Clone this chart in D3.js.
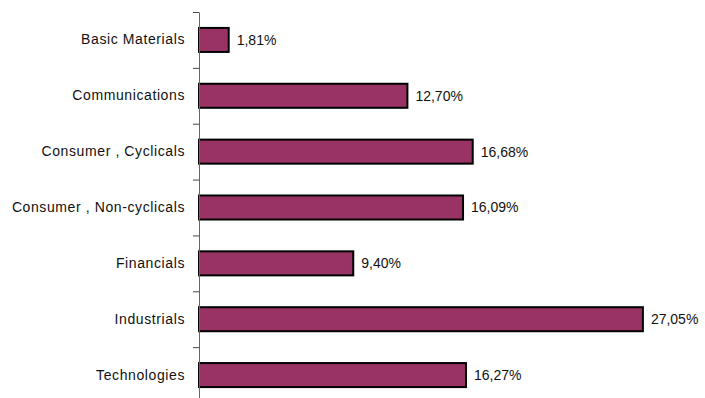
<!DOCTYPE html>
<html>
  <head>
    <meta charset="UTF-8" />
    <script src="https://d3js.org/d3.v7.min.js"></script>
    <style>
      body { margin: 0; background: #fff; }
      text { font-family: "Liberation Sans", Arial, sans-serif; }
    </style>
  </head>
  <body>
    <div id="chart"></div>
    <script>
      // data
      var categories = [
        "Basic Materials",
        "Communications",
        "Consumer , Cyclicals",
        "Consumer , Non-cyclicals",
        "Financials",
        "Industrials",
        "Technologies"
      ];
      var values = [1.81, 12.7, 16.68, 16.09, 9.4, 27.05, 16.27];
      var labels = ["1,81%", "12,70%", "16,68%", "16,09%", "9,40%", "27,05%", "16,27%"];

      var width = 705, height = 398;
      var x0 = 199;

      var svg = d3.select("#chart").append("svg")
        .attr("width", width)
        .attr("height", height);

      var x = d3.scaleLinear().domain([0, 30]).range([x0, x0 + 492.3]);
      var y = d3.scaleBand().domain(categories).range([12, 403])
        .paddingInner(0.57).paddingOuter(0.285);

      // bars
      svg.selectAll("rect.bar")
        .data(values)
        .enter().append("rect")
        .attr("class", "bar")
        .attr("x", x(0))
        .attr("y", (d, i) => y(categories[i]))
        .attr("width", d => x(d) - x(0))
        .attr("height", y.bandwidth())
        .attr("fill", "#993366")
        .attr("stroke", "#000")
        .attr("stroke-width", 2);

      // value labels
      svg.selectAll("text.val")
        .data(values)
        .enter().append("text")
        .attr("class", "val")
        .attr("x", d => x(d) + 8)
        .attr("y", (d, i) => y(categories[i]) + y.bandwidth() / 2)
        .attr("dy", "0.35em")
        .attr("font-size", 14)
        .attr("fill", "#111")
        .text((d, i) => labels[i]);

      // category labels
      var yAxis = d3.axisLeft(y).tickSize(0).tickPadding(14);
      var gy = svg.append("g").attr("transform", "translate(" + x0 + ",0)").call(yAxis);
      gy.select(".domain").remove();
      gy.selectAll("text")
        .attr("font-size", 14)
        .attr("font-family", "'Liberation Sans', Arial, sans-serif")
        .attr("letter-spacing", 0.6)
        .attr("fill", "#111");

      // boundary ticks and axis line
      var yb = d3.scaleLinear().domain([0, categories.length]).range([12, 403]);
      var gb = svg.append("g").attr("transform", "translate(" + x0 + ",0)")
        .call(d3.axisLeft(yb).tickValues(d3.range(0, categories.length + 1))
          .tickSize(6).tickSizeOuter(0).tickFormat(""));
      gb.select(".domain").attr("stroke", "#666");
      gb.selectAll(".tick line").attr("stroke", "#444");
    </script>
  </body>
</html>
